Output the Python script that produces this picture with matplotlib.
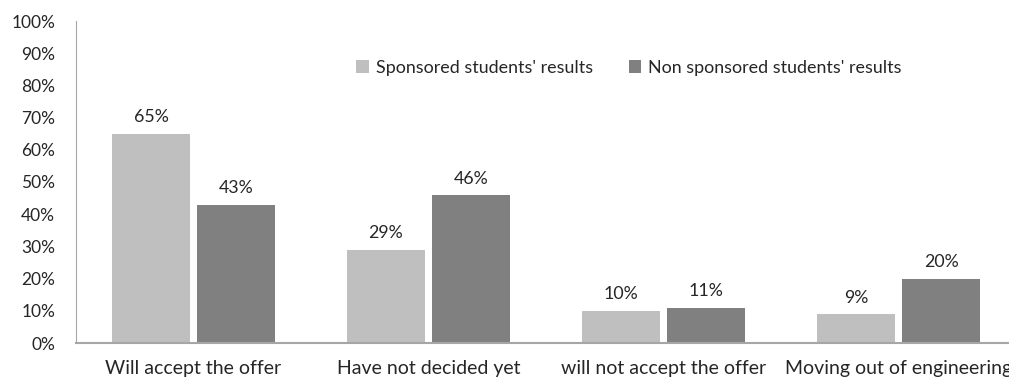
import matplotlib.pyplot as plt
import numpy as np

plt.rcParams['font.family'] = ['Lato', 'DejaVu Sans']

# datos
categorias = ['Will accept the offer', 'Have not decided yet',
              'will not accept the offer', 'Moving out of engineering']
patrocinados = [65, 29, 10, 9]
no_patrocinados = [43, 46, 11, 20]
ticks_y = np.arange(0, 101, 10)

gris_claro = '#bfbfbf'
gris_oscuro = '#808080'
texto = '#262626'

fig = plt.figure(figsize=(10.09, 3.81), dpi=100)
ax = fig.add_axes([76/1009, 38/381, 940/1009, 322/381])

x = np.arange(len(categorias))
w = 0.328
d = 0.181
b1 = ax.bar(x - d, patrocinados, w, color=gris_claro, label="Sponsored students' results")
b2 = ax.bar(x + d, no_patrocinados, w, color=gris_oscuro, label="Non sponsored students' results")

for barras in (b1, b2):
    for b in barras:
        ax.annotate(f'{int(b.get_height())}%', (b.get_x() + b.get_width()/2, b.get_height()),
                    xytext=(0, 6), textcoords='offset points', ha='center', va='bottom',
                    fontsize=12.8, color=texto)

ax.set_xlim(-0.5, 3.5)
ax.set_ylim(0, 100)
ax.set_yticks(ticks_y)
ax.set_yticklabels([f'{t}%' for t in ticks_y])
ax.set_xticks(x)
ax.set_xticklabels(categorias)
ax.tick_params(axis='y', length=0, pad=15, labelsize=12.5, labelcolor=texto)
ax.tick_params(axis='x', length=0, pad=12, labelsize=14, labelcolor=texto)

for s in ['top', 'right']:
    ax.spines[s].set_visible(False)
ax.spines['left'].set_color('#a6a6a6')
ax.spines['bottom'].set_color('#a6a6a6')
ax.spines['bottom'].set_linewidth(1.5)

ax.legend(loc='center', bbox_to_anchor=(553/940, (381-68-38)/322), ncol=2, frameon=False,
          fontsize=12.9, handlelength=0.7, handleheight=0.7, columnspacing=2.0,
          handletextpad=0.4, labelcolor=texto)

plt.savefig('out.png', dpi=100)
